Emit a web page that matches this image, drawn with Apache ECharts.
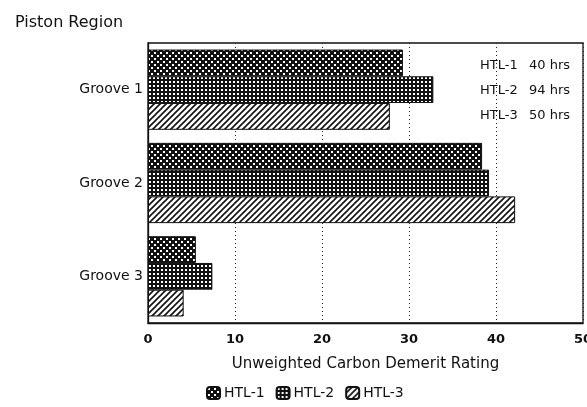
<!DOCTYPE html>
<html><head><meta charset="utf-8">
<script src="https://cdn.jsdelivr.net/npm/echarts@6/dist/echarts.min.js"></script>
<style>html,body{margin:0;padding:0;background:#fff}#c{width:587px;height:407px}</style>
</head><body><div id="c"></div>
<script>
const categories = ['Groove 1', 'Groove 2', 'Groove 3'];
const seriesNames = ['HTL-1', 'HTL-2', 'HTL-3'];
const htl1 = [29.3, 38.4, 5.5];
const htl2 = [32.8, 39.2, 7.4];
const htl3 = [27.8, 42.2, 4.1];
const xTicks = [0, 10, 20, 30, 40, 50];
const noteNames = ['HTL-1', 'HTL-2', 'HTL-3'];
const noteHours = ['40 hrs', '94 hrs', '50 hrs'];

function mk(w, h, draw) {
  const c = document.createElement('canvas');
  c.width = w; c.height = h;
  const g = c.getContext('2d');
  draw(g, w, h);
  return { image: c, repeat: 'repeat' };
}
const pat1 = mk(6, 6, (g) => {
  g.fillStyle = '#111'; g.fillRect(0, 0, 6, 6);
  g.fillStyle = '#fff';
  g.fillRect(1, 1, 2, 2); g.fillRect(4, 4, 2, 2);
});
const pat2 = mk(4, 4, (g) => {
  g.fillStyle = '#111'; g.fillRect(0, 0, 4, 4);
  g.fillStyle = '#fff'; g.fillRect(1, 1, 2, 2);
});
const pat3 = mk(6, 6, (g) => {
  g.fillStyle = '#fff'; g.fillRect(0, 0, 6, 6);
  g.strokeStyle = '#111'; g.lineWidth = 1.6;
  g.beginPath();
  g.moveTo(-1, 7); g.lineTo(7, -1);
  g.moveTo(-1, 1); g.lineTo(1, -1);
  g.moveTo(5, 7); g.lineTo(7, 5);
  g.stroke();
});
const pats = [pat1, pat2, pat3];
const vals = [htl1, htl2, htl3];

const font = 'DejaVu Sans, sans-serif';
const chart = echarts.init(document.getElementById('c'), null, { renderer: 'canvas' });
chart.setOption({
  animation: false,
  backgroundColor: '#fff',
  title: { text: 'Piston Region', left: 10, top: 10,
    textStyle: { fontFamily: font, fontSize: 16, fontWeight: 'normal', color: '#111' } },
  grid: { left: 148, right: 4, top: 43, bottom: 84, show: true, borderColor: '#111', borderWidth: 1.3,
    outerBoundsMode: 'none', containLabel: false },
  legend: {
    data: seriesNames, top: 381, left: 201, itemWidth: 13, itemHeight: 12, itemGap: 11,
    textStyle: { fontFamily: font, fontSize: 14, color: '#111', padding: [0, 0, 0, -1] }
  },
  xAxis: {
    type: 'value', min: 0, max: 50, interval: 10,
    name: 'Unweighted Carbon Demerit Rating', nameLocation: 'middle', nameGap: 34,
    nameTextStyle: { fontFamily: font, fontSize: 15, color: '#111' },
    axisLine: { show: true, lineStyle: { color: '#111', width: 1.3 } },
    axisTick: { show: false },
    axisLabel: { fontFamily: font, fontSize: 13, color: '#111', margin: 10, fontWeight: 'bold',
      formatter: v => xTicks.includes(v) ? String(v) : '' },
    splitLine: { show: true, lineStyle: { color: '#222', type: [1, 3], width: 1 } }
  },
  yAxis: {
    type: 'category', data: categories, inverse: true,
    axisLine: { show: true, lineStyle: { color: '#111', width: 1.3 } },
    axisTick: { show: false },
    axisLabel: { fontFamily: font, fontSize: 14, color: '#111', margin: 5 }
  },
  series: seriesNames.map((n, i) => ({
    name: n, type: 'bar', data: vals[i], barCategoryGap: '14%', barGap: '0%',
    itemStyle: { color: pats[i], borderColor: '#111', borderWidth: 1 }
  })).concat([{
    type: 'custom', silent: true, data: [0],
    renderItem: (params, api) => ({
      type: 'group',
      children: noteNames.map((t, k) => ({
        type: 'text', x: 480, y: 66 + k * 25,
        style: { text: t, fontFamily: font, fontSize: 13, fill: '#111', verticalAlign: 'middle' }
      })).concat(noteHours.map((t, k) => ({
        type: 'text', x: 529, y: 66 + k * 25,
        style: { text: t, fontFamily: font, fontSize: 13, fill: '#111', verticalAlign: 'middle' }
      })))
    })
  }])
});
</script></body></html>
